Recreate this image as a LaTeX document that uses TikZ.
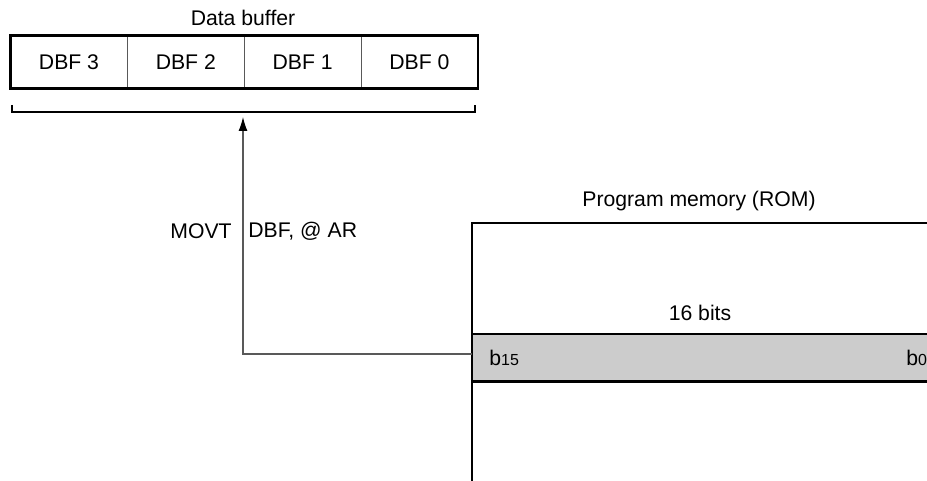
\documentclass[tikz,border=0pt]{standalone}
\usepackage{fontspec}
\setmainfont{Liberation Sans}
\usetikzlibrary{positioning,arrows.meta}
\definecolor{rowgray}{RGB}{204,204,204}

\begin{document}
\begin{tikzpicture}[x=0.5pt,y=-0.5pt,
    every node/.style={font=\fontsize{10.6}{13}\selectfont,inner sep=0pt},
    cell/.style={minimum width=58pt,minimum height=26pt},
    wordrow/.style={fill=rowgray,minimum width=227.5pt,minimum height=23.5pt}]
      \useasboundingbox (0,0) rectangle (927,481);
      \node[cell] (dbf3) at (69,62) {DBF 3};
      \node[cell,right=0pt of dbf3] (dbf2) {DBF 2};
      \node[cell,right=0pt of dbf2] (dbf1) {DBF 1};
      \node[cell,right=0pt of dbf1] (dbf0) {DBF 0};
      \node (dbuf) at (243,18) {Data buffer};
      \draw[gray!70!black,line width=0.5pt] (dbf3.north east) -- (dbf3.south east);
      \draw[gray!70!black,line width=0.5pt] (dbf2.north east) -- (dbf2.south east);
      \draw[gray!70!black,line width=0.5pt] (dbf1.north east) -- (dbf1.south east);
      \draw[line width=1.2pt] (dbf3.north west) rectangle (dbf0.south east);
      \draw[line width=0.6pt] (12,105) -- (12,112) -- (475,112) -- (475,105);
      \node[wordrow] (row) at (699.5,357.5) {};
      \node[anchor=west] (msb) at (489,358) {b{\fontsize{8}{10}\selectfont 15}};
      \node[anchor=west] (lsb) at (906,358) {b{\fontsize{8}{10}\selectfont 0}};
      \node (width) at (700,313) {16 bits};
      \node (rom) at (699,201) {Program memory (ROM)};
      \draw[line width=1.1pt] (row.north west) -- (row.north east);
      \draw[line width=1.1pt] (row.south west) -- (row.south east);
      \draw[line width=1.1pt] (927,223) -- (472,223) -- (472,481);
      \coordinate (tap) at (472,354);
      \coordinate (brk) at (243,117);
      \draw[gray!70!black,line width=0.6pt,-{Latex[length=7pt,width=4.5pt,black]}] (tap) -| (brk);
      \node[anchor=east] (movt) at (232,231) {MOVT};
      \node[anchor=west] (opnd) at (248,231) {DBF, @ AR};
    \end{tikzpicture}
\end{document}
